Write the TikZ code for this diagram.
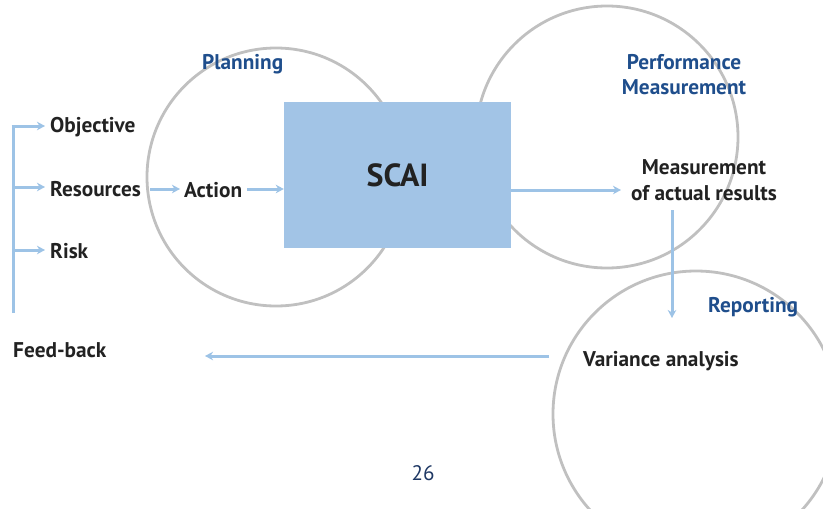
\documentclass[tikz,border=0pt]{standalone}
\usepackage{fontspec}
\setmainfont{PT Sans}
\usetikzlibrary{arrows.meta}
\definecolor{flowblue}{HTML}{9DC3E6}
\definecolor{boxblue}{HTML}{A2C4E6}
\definecolor{ringgray}{HTML}{C0C0C0}
\definecolor{headblue}{HTML}{1F4E8C}
\definecolor{txtdark}{HTML}{222222}
\definecolor{pageblue}{HTML}{1F3864}
\tikzset{
  ring/.style={draw=ringgray, line width=2.8pt},
  flow/.style={draw=flowblue, line width=3pt, -{Stealth[length=8pt,width=8.5pt,inset=2.5pt]}},
  plain/.style={draw=flowblue, line width=3pt},
  item/.style={font=\fontsize{21.3}{25.5}\selectfont\bfseries, text=txtdark, inner sep=0pt},
  phase/.style={font=\fontsize{21.3}{25}\selectfont\bfseries, text=headblue, inner sep=0pt, align=center},
}
\begin{document}
\begin{tikzpicture}[x=1pt, y=-1pt]
\useasboundingbox (0,0) rectangle (823,509);

% the three phase circles
\draw[ring] (276,177) circle[radius=129];
\draw[ring] (607,137) circle[radius=131];
\draw[ring] (696,414) circle[radius=143];

% central box
\node[fill=boxblue, minimum width=227pt, minimum height=146pt, inner sep=0pt,
      font=\fontsize{32}{36}\selectfont\bfseries, text=txtdark] (scai) at (397.5,175) {SCAI};

% phase titles
\node[phase, anchor=west] (plan) at (202,64) {Planning};
\node[phase] (perf) at (684,75) {Performance\\Measurement};
\node[phase, anchor=west] (rep) at (708,307) {Reporting};

% items on the left
\node[item, anchor=west] (obj) at (50,127) {Objective};
\node[item, anchor=west] (res) at (50,189) {Resources};
\node[item, anchor=west] (risk) at (50,251) {Risk};
\node[item, anchor=west] (act) at (184,190) {Action};
\node[item, align=center] (meas) at (704,180) {Measurement\\of actual results};
\node[item, anchor=west] (var) at (583,361) {Variance analysis};
\node[item, anchor=west] (fb) at (13,350) {Feed-back};

% feed-back bracket
\coordinate (btop) at (13,126);
\coordinate (bbot) at (13,313);
\draw[plain] (bbot) -- ([yshift=-1.5pt]btop);
\draw[flow, shorten >=5pt] ([xshift=-1.5pt]btop) -- (obj.west |- btop);
\draw[flow, shorten >=5pt] (13,187) -- (res.west |- 0,187);
\draw[flow, shorten >=5pt] (13,250) -- (risk.west |- 0,250);

% main flow
\coordinate (r1) at (150,189);
\draw[flow, shorten >=4pt] (r1) -- (act.west |- r1);
\coordinate (a1) at (247,189);
\draw[flow] (a1) -- (scai.west |- a1);
\coordinate (m1) at (621,190);
\draw[flow] (scai.east |- m1) -- (m1);
\coordinate (v0) at (672,210);
\coordinate (v1) at (672,318);
\draw[flow] (v0) -- (v1);
\coordinate (f0) at (549,356);
\coordinate (f1) at (205,356);
\draw[flow] (f0) -- (f1);

% page number
\node[font=\fontsize{21}{24}\selectfont, text=pageblue] (page) at (423,473) {26};
\end{tikzpicture}
\end{document}
